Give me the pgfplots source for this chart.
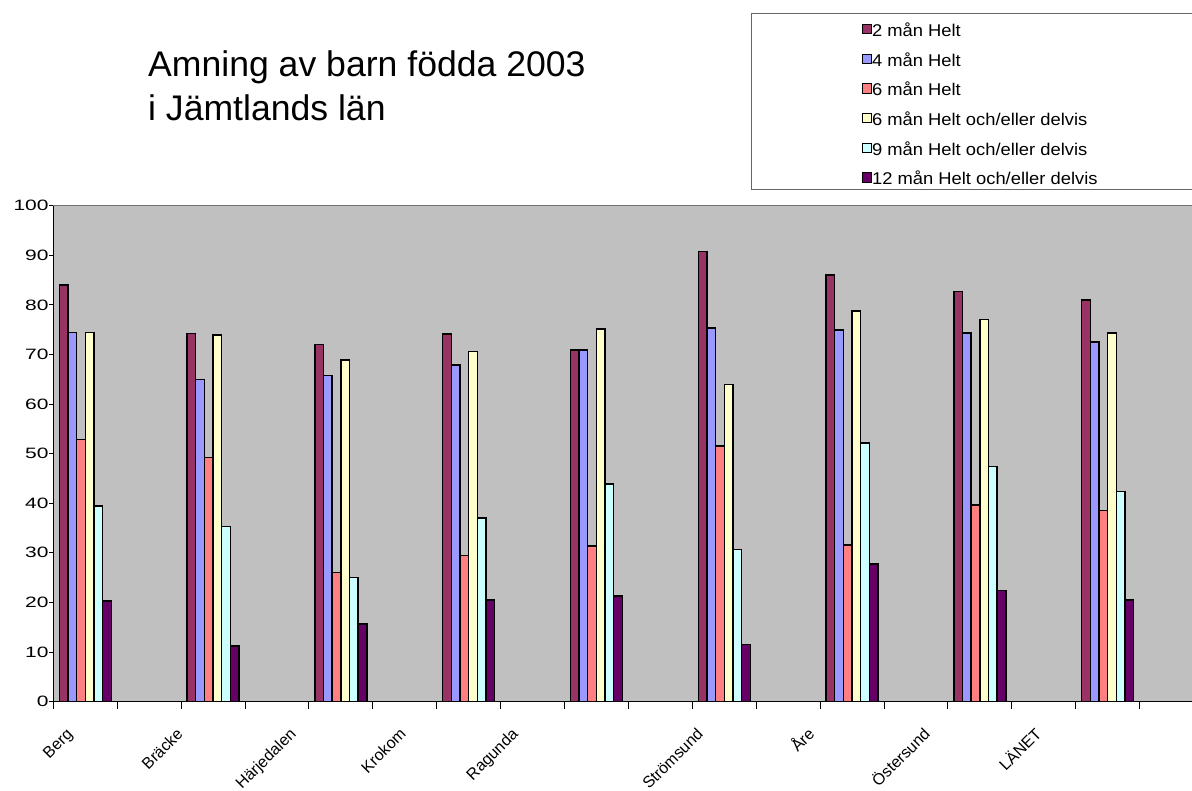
\documentclass[border=0pt]{standalone}
\usepackage{fontspec}
\setmainfont{Liberation Sans}
\newfontfamily\widefont[FakeStretch=1.4]{Liberation Sans}
\newfontfamily\legfont[FakeStretch=1.08]{Liberation Sans}
\usepackage{pgfplots}
\pgfplotsset{compat=1.18}
\usepackage{pgfplotstable}

\definecolor{cA}{HTML}{993366}
\definecolor{cB}{HTML}{9999FF}
\definecolor{cC}{HTML}{FF8080}
\definecolor{cD}{HTML}{FFFFCC}
\definecolor{cE}{HTML}{CCFFFF}
\definecolor{cF}{HTML}{660066}
\definecolor{plotbg}{HTML}{C0C0C0}

% Andel ammade barn (%), kommunvis; x = gruppens mitt
\pgfplotstableread{
x     b1    b2    b3    b4    b5    b6
0.5   84.0  74.4  52.8  74.4  39.4  20.3
2.5   74.2  65.0  49.2  73.9  35.3  11.2
4.5   72.0  65.7  26.0  68.9  25.0  15.6
6.5   74.1  67.9  29.5  70.6  37.0  20.5
8.5   70.9  70.9  31.4  75.1  43.9  21.3
10.5  90.7  75.3  51.5  63.9  30.6  11.5
12.5  86.0  74.9  31.6  78.8  52.1  27.7
14.5  82.7  74.3  39.6  77.0  47.4  22.4
16.5  81.0  72.5  38.5  74.3  42.3  20.5
}\amning

\pgfplotsset{
  sqlegend/.style={legend image code/.code={\draw[##1,line width=0.9pt] (0pt,2.7pt) rectangle (9.3pt,12pt);}},
}

\begin{document}
\begin{tikzpicture}[x=1pt,y=1pt]
\useasboundingbox (0,0) rectangle (1192,791);

\node[anchor=base west, inner sep=0pt, font=\fontsize{35.6}{44}\selectfont] at (148,714.3) {Amning av barn födda 2003};
\node[anchor=base west, inner sep=0pt, font=\fontsize{35.6}{44}\selectfont] at (148,670.3) {i Jämtlands län};

\draw[black!60, line width=1pt] (751.7,777.7) rectangle (1215,601);

\begin{axis}[
  at={(53.3pt,89.5pt)}, anchor=south west,
  width=1138.7pt, height=495.8pt, scale only axis,
  xmin=0, xmax=17.82, ymin=0, ymax=100,
  axis background/.style={fill=plotbg},
  axis x line*=bottom, axis y line*=left,
  axis line style={-, black, line width=1pt},
  tick align=outside,
  major tick length=4.5pt,
  tick style={black, line width=0.8pt},
  ytick={0,10,...,100},
  /pgf/number format/assume math mode=true,
  yticklabel style={font={\widefont\fontsize{15}{18}\selectfont}, anchor=east, inner sep=0pt},
  xtick={0,1,...,17},
  xticklabels={},
  xtick style={/pgfplots/major tick length=7.5pt},
  extra x ticks={0.316,2.043,3.814,5.535,7.288,10.183,11.928,13.736,15.482},
  extra x tick labels={Berg,Bräcke,Härjedalen,Krokom,Ragunda,Strömsund,Åre,Östersund,LÄNET},
  extra x tick style={major tick length=0pt, tick style={draw=none},
    xticklabel style={yshift=-33.5pt, rotate=45, anchor=base east, inner sep=0pt, font=\fontsize{16}{18}\selectfont}},
  ybar=0pt, bar width=8.67pt,
  legend style={draw=none, fill=none, at={(0.7099,1.3665)}, anchor=north west,
    inner sep=0pt, row sep=14.2pt, font={\legfont\fontsize{17}{20}\selectfont},
    nodes={inner sep=0pt, text height=12pt, text depth=3pt, anchor=base west},
    /tikz/every even column/.append style={column sep=0pt}},
  legend cell align=left,
  clip=false,
  after end axis/.code={\draw[black!55, line width=1.2pt] (rel axis cs:0,1) -- (rel axis cs:1,1);},
]
\addplot[sqlegend, fill=cA, draw=black, line width=1.4pt] table[x=x, y=b1] {\amning};
\addlegendentry{2 mån Helt}
\addplot[sqlegend, fill=cB, draw=black, line width=1.4pt] table[x=x, y=b2] {\amning};
\addlegendentry{4 mån Helt}
\addplot[sqlegend, fill=cC, draw=black, line width=1.4pt] table[x=x, y=b3] {\amning};
\addlegendentry{6 mån Helt}
\addplot[sqlegend, fill=cD, draw=black, line width=1.4pt] table[x=x, y=b4] {\amning};
\addlegendentry{6 mån Helt och/eller delvis}
\addplot[sqlegend, fill=cE, draw=black, line width=1.4pt] table[x=x, y=b5] {\amning};
\addlegendentry{9 mån Helt och/eller delvis}
\addplot[sqlegend, fill=cF, draw=black, line width=1.4pt] table[x=x, y=b6] {\amning};
\addlegendentry{12 mån Helt och/eller delvis}
\end{axis}
\end{tikzpicture}
\end{document}
